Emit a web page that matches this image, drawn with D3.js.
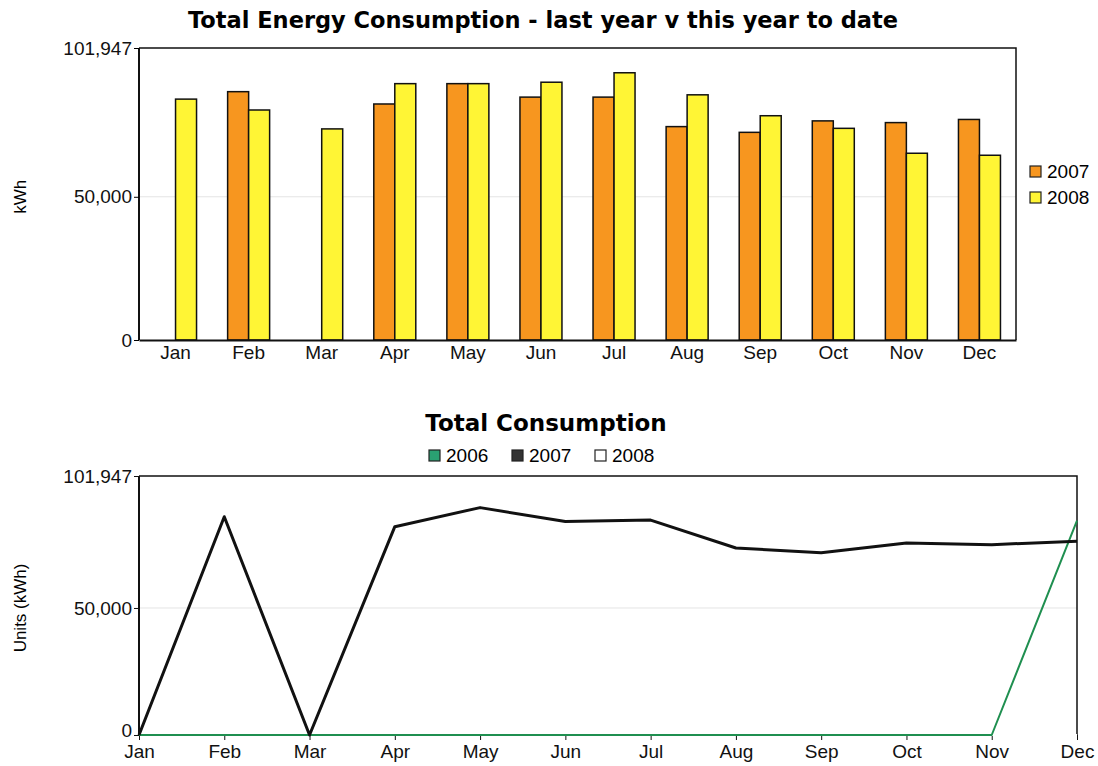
<!DOCTYPE html>
<html>
<head>
<meta charset="utf-8">
<script src="https://cdn.jsdelivr.net/npm/d3@7"></script>
<style>
  body { margin: 0; background: #fff; }
  svg { font-family: "Liberation Sans", Arial, sans-serif; }
</style>
</head>
<body>
<svg width="1098" height="766"></svg>
<script>
// data
var months = ["Jan", "Feb", "Mar", "Apr", "May", "Jun", "Jul", "Aug", "Sep", "Oct", "Nov", "Dec"];
var years = ["2007", "2008"];
var energy2007 = [0, 86700, 0, 82400, 89500, 84800, 84800, 74500, 72500, 76500, 75900, 77000];
var energy2008 = [84100, 80300, 73700, 89500, 89500, 90000, 93300, 85600, 78300, 73900, 65200, 64500];
var lineYears = ["2006", "2007", "2008"];
var units2006 = [0, 0, 0, 0, 0, 0, 0, 0, 0, 0, 0, 84400];
var units2007 = [0, 85900, 0, 82000, 89500, 84000, 84600, 73600, 71700, 75600, 74900, 76300];
var units2008 = [0, 0, 0, 0, 0, 0, 0, 0, 0, 0, 0, 0];
var yTicks = [0, 50000, 101947];
var yMax = 101947;

var orange = "#f7961f", yellow = "#fff535";
var svg = d3.select("svg");
var fmt = d3.format(",");
var tickFont = 19;

// ---------- top chart: bars ----------
var t = {left: 139, right: 1016, top: 48, bottom: 340};

var x0 = d3.scaleBand().domain(months).range([t.left, t.right]);
var x1 = d3.scaleBand().domain(years).range([x0.bandwidth() / 2 - 21, x0.bandwidth() / 2 + 21]);
var y = d3.scaleLinear().domain([0, yMax]).range([t.bottom, t.top]);

var gTop = svg.append("g");

gTop.append("text")
    .attr("x", 543).attr("y", 28)
    .attr("text-anchor", "middle")
    .attr("font-family", "DejaVu Sans, Verdana, sans-serif")
    .attr("font-size", 22.5).attr("font-weight", "bold")
    .text("Total Energy Consumption - last year v this year to date");

// grid at 50,000
gTop.append("line")
    .attr("x1", t.left).attr("x2", t.right)
    .attr("y1", y(50000)).attr("y2", y(50000))
    .attr("stroke", "#e4e4e4");

var rows = months.map(function(m, i) { return {m: m, v: [energy2007[i], energy2008[i]]}; });

gTop.selectAll(".grp")
    .data(rows)
  .enter().append("g")
    .attr("transform", function(d) { return "translate(" + x0(d.m) + ",0)"; })
  .selectAll("rect")
    .data(function(d) {
      return d.v.map(function(v, j) { return {yr: years[j], v: v}; })
                .filter(function(e) { return e.v > 0; });
    })
  .enter().append("rect")
    .attr("x", function(d) { return x1(d.yr); })
    .attr("width", x1.bandwidth())
    .attr("y", function(d) { return y(d.v); })
    .attr("height", function(d) { return y(0) - y(d.v); })
    .attr("fill", function(d) { return d.yr == "2007" ? orange : yellow; })
    .attr("stroke", "#111")
    .attr("stroke-width", 1.5);

// frame
gTop.append("path")
    .attr("d", "M" + t.left + "," + t.top + "H" + t.right + "V" + t.bottom)
    .attr("fill", "none").attr("stroke", "#111").attr("stroke-width", 1.5);

var ya = gTop.append("g")
    .attr("transform", "translate(" + t.left + ",0)")
    .call(d3.axisLeft(y).tickValues(yTicks).tickFormat(fmt).tickSize(5).tickPadding(2));
var xa = gTop.append("g")
    .attr("transform", "translate(0," + t.bottom + ")")
    .call(d3.axisBottom(x0).tickSize(0).tickPadding(6));

[ya, xa].forEach(function(a) {
  a.select(".domain").attr("stroke", "#111").attr("stroke-width", 2);
  a.selectAll("text").attr("font-size", tickFont).attr("fill", "#111").attr("font-family", "Liberation Sans, Arial");
});
ya.selectAll(".domain").attr("d", "M0," + t.top + "V" + t.bottom);

gTop.append("text")
    .attr("transform", "translate(26," + y(50000) + ") rotate(-90)")
    .attr("text-anchor", "middle")
    .attr("font-size", 17)
    .text("kWh");

// legend
var leg = gTop.selectAll(".leg")
    .data(years)
  .enter().append("g")
    .attr("transform", function(d, i) { return "translate(1030," + (166 + i * 26) + ")"; });
leg.append("rect")
    .attr("width", 11).attr("height", 11)
    .attr("fill", function(d) { return d == "2007" ? orange : yellow; })
    .attr("stroke", "#222").attr("stroke-width", 1.2);
leg.append("text")
    .attr("x", 17).attr("y", 12)
    .attr("font-size", tickFont)
    .text(function(d) { return d; });

// ---------- bottom chart: lines ----------
var b = {left: 139, right: 1077, top: 476, bottom: 735};

var xp = d3.scalePoint().domain(months).range([b.left, b.right]);
var y2 = d3.scaleLinear().domain([0, yMax]).range([b.bottom, b.top]);

var gBot = svg.append("g");

gBot.append("text")
    .attr("x", 546).attr("y", 431)
    .attr("text-anchor", "middle")
    .attr("font-family", "DejaVu Sans, Verdana, sans-serif")
    .attr("font-size", 23).attr("font-weight", "bold")
    .text("Total Consumption");

var lineColors = {"2006": "#2aa072", "2007": "#333333", "2008": "#ffffff"};
var lleg = gBot.selectAll(".lleg")
    .data(lineYears)
  .enter().append("g")
    .attr("transform", function(d, i) { return "translate(" + (429 + i * 83) + ",450)"; });
lleg.append("rect")
    .attr("width", 11).attr("height", 11)
    .attr("fill", function(d) { return lineColors[d]; })
    .attr("stroke", "#222").attr("stroke-width", 1.2);
lleg.append("text")
    .attr("x", 17).attr("y", 12)
    .attr("font-size", tickFont)
    .text(function(d) { return d; });

gBot.append("line")
    .attr("x1", b.left).attr("x2", b.right)
    .attr("y1", y2(50000)).attr("y2", y2(50000))
    .attr("stroke", "#e4e4e4");

gBot.append("path")
    .attr("d", "M" + b.left + "," + b.top + "H" + b.right + "V" + b.bottom)
    .attr("fill", "none").attr("stroke", "#111").attr("stroke-width", 1.5);

var ya2 = gBot.append("g")
    .attr("transform", "translate(" + b.left + ",0)")
    .call(d3.axisLeft(y2).tickValues(yTicks).tickFormat(fmt).tickSize(5).tickPadding(2));
var xa2 = gBot.append("g")
    .attr("transform", "translate(0," + b.bottom + ")")
    .call(d3.axisBottom(xp).tickSize(5).tickPadding(5));

[ya2, xa2].forEach(function(a) {
  a.select(".domain").attr("stroke", "#111").attr("stroke-width", 2);
  a.selectAll(".tick line").attr("stroke", "#111");
  a.selectAll("text").attr("font-size", tickFont).attr("fill", "#111").attr("font-family", "Liberation Sans, Arial");
});
ya2.selectAll(".domain").attr("d", "M0," + b.top + "V" + b.bottom);
xa2.selectAll(".domain").attr("d", "M" + b.left + ",0H" + b.right);
// lift the "0" a touch so it clears "Jan"
ya2.selectAll(".tick text").attr("dy", function(d) { return d === 0 ? "0.1em" : "0.32em"; });

gBot.append("text")
    .attr("transform", "translate(26," + y2(50000) + ") rotate(-90)")
    .attr("text-anchor", "middle")
    .attr("font-size", 17)
    .text("Units (kWh)");

var line = d3.line()
    .x(function(d, i) { return xp(months[i]); })
    .y(function(d) { return y2(d); });

[["2008", units2008, 2], ["2006", units2006, 2], ["2007", units2007, 3]].forEach(function(s) {
  gBot.append("path")
      .datum(s[1])
      .attr("fill", "none")
      .attr("stroke", s[0] == "2006" ? "#1f8f50" : (s[0] == "2007" ? "#111" : lineColors[s[0]]))
      .attr("stroke-width", s[2])
      .attr("stroke-linejoin", "round")
      .attr("d", line);
});
</script>
</body>
</html>
